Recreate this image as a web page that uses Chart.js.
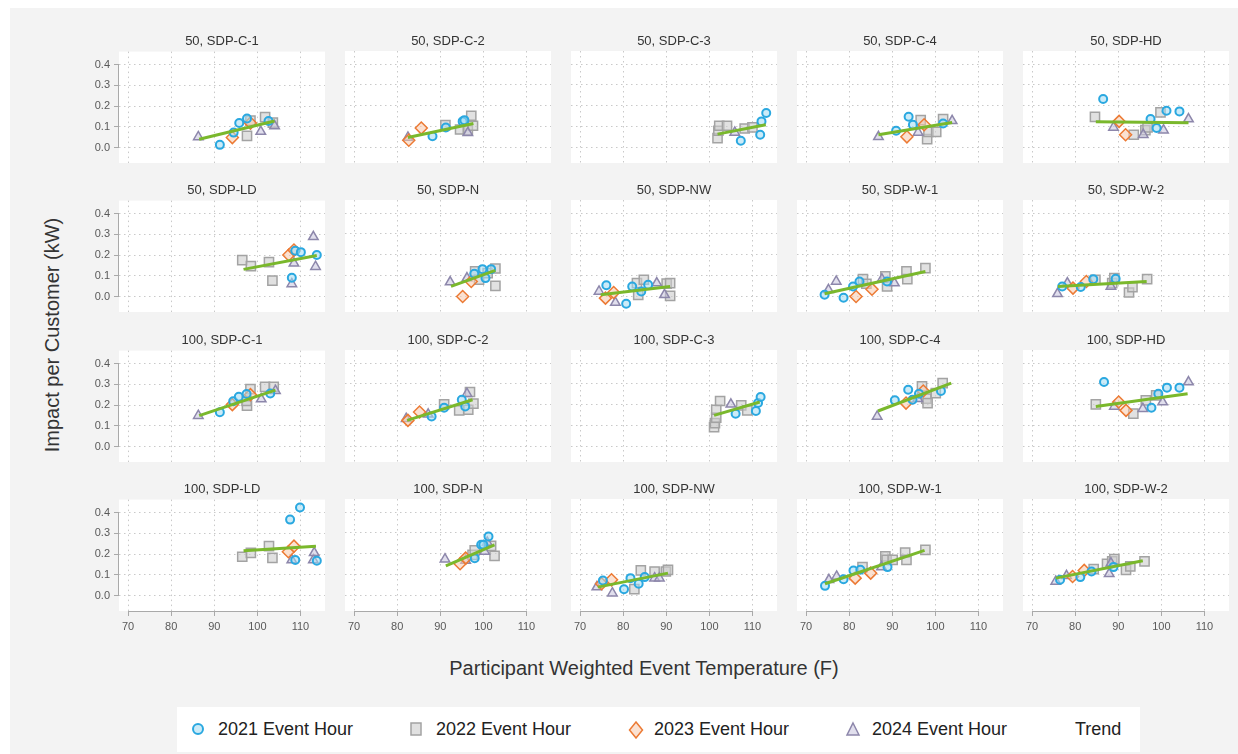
<!DOCTYPE html>
<html><head><meta charset="utf-8">
<script src="https://cdn.jsdelivr.net/npm/chart.js@4.4.0/dist/chart.umd.min.js"></script>
<style>
html,body{margin:0;padding:0;background:#fff;}
body{width:1238px;height:754px;position:relative;overflow:hidden;font-family:"Liberation Sans",Arial,sans-serif;}
#bg{position:absolute;left:10px;top:8px;right:0;bottom:0;background:#f3f3f3;}
canvas{position:absolute;}
.ptitle{position:absolute;font-size:13px;color:#333;text-align:center;white-space:nowrap;z-index:5;width:206px;}
#ytitle{position:absolute;left:52px;top:335px;transform:translate(-50%,-50%) rotate(-90deg);font-size:20px;color:#333;white-space:nowrap;}
#xtitle{position:absolute;left:644px;top:668px;transform:translate(-50%,-50%);font-size:20px;color:#333;white-space:nowrap;}
#legend{position:absolute;left:177px;top:707px;width:963px;height:45px;background:#fff;}
.li{position:absolute;top:0;height:45px;line-height:45px;font-size:18px;color:#222;white-space:nowrap;}
.ic{position:absolute;top:14px;}
</style></head>
<body>
<div id="bg"></div>
<div id="ytitle">Impact per Customer (kW)</div>
<div id="xtitle">Participant Weighted Event Temperature (F)</div>
<div id="legend"></div>
<script>
const panelNames = ['50, SDP-C-1','50, SDP-C-2','50, SDP-C-3','50, SDP-C-4','50, SDP-HD',
  '50, SDP-LD','50, SDP-N','50, SDP-NW','50, SDP-W-1','50, SDP-W-2',
  '100, SDP-C-1','100, SDP-C-2','100, SDP-C-3','100, SDP-C-4','100, SDP-HD',
  '100, SDP-LD','100, SDP-N','100, SDP-NW','100, SDP-W-1','100, SDP-W-2'];
const yTicks = [0,0.1,0.2,0.3,0.4];
const xTicks = [70,80,90,100,110];
const seriesNames = ['2021 Event Hour','2022 Event Hour','2023 Event Hour','2024 Event Hour','Trend'];

const pts2021 = [
 [[91.3,0.013],[94.5,0.072],[95.8,0.118],[97.6,0.14],[102.6,0.128]],
 [[88.2,0.054],[91.3,0.096],[95.2,0.125],[95.6,0.131]],
 [[107.3,0.032],[111.8,0.061],[112.1,0.125],[113.2,0.165]],
 [[90.9,0.08],[93.8,0.147],[94.8,0.109],[101.8,0.115]],
 [[86.5,0.232],[97.5,0.136],[98.9,0.093],[101.2,0.176],[104.2,0.173]],
 [[108,0.091],[108.8,0.221],[110.1,0.214],[113.8,0.2]],
 [[97.9,0.109],[99.8,0.131],[100.5,0.088],[101.8,0.131]],
 [[76.1,0.054],[80.7,-0.035],[82.1,0.048],[84.2,0.024],[85.8,0.056]],
 [[74.3,0.008],[78.7,-0.006],[80.9,0.048],[82.4,0.072],[88.8,0.072]],
 [[77,0.048],[81.3,0.045],[84.2,0.083],[89.4,0.085]],
 [[91.3,0.165],[94.4,0.218],[95.7,0.24],[97.5,0.253],[103,0.256]],
 [[88,0.144],[90.9,0.186],[95,0.224],[95.8,0.192]],
 [[106.1,0.157],[110.8,0.17],[111.3,0.208],[111.9,0.237]],
 [[90.6,0.221],[93.7,0.272],[94.7,0.224],[96.2,0.253],[101.3,0.266]],
 [[86.7,0.309],[97.7,0.186],[99.3,0.253],[101.3,0.282],[104.2,0.282]],
 [[107.6,0.366],[108.8,0.171],[109.9,0.424],[113.8,0.168]],
 [[98,0.179],[99.5,0.243],[100,0.243],[101.2,0.283]],
 [[75.3,0.072],[80.2,0.03],[81.7,0.083],[83.6,0.056],[85,0.088]],
 [[74.4,0.046],[78.7,0.078],[81,0.12],[82.6,0.123],[88.9,0.136]],
 [[76.5,0.075],[81.2,0.088],[83.8,0.115],[88.9,0.136]]
];
const pts2022 = [
 [[97.6,0.056],[98.4,0.13],[101.8,0.147],[103.6,0.12]],
 [[91.2,0.107],[94.6,0.086],[96.4,0.083],[97.2,0.152],[97.6,0.104]],
 [[101.9,0.045],[102.1,0.08],[102.3,0.104],[104.1,0.104],[108.2,0.091],[110,0.096]],
 [[96.6,0.131],[98.1,0.04],[98.4,0.075],[100.2,0.075],[101.8,0.136]],
 [[84.6,0.147],[93.6,0.061],[96.3,0.083],[96.8,0.096],[99.8,0.168]],
 [[96.5,0.176],[98.5,0.147],[102.7,0.166],[103.5,0.077]],
 [[98.1,0.12],[99,0.08],[101,0.112],[102.8,0.134],[102.8,0.051]],
 [[83.2,0.064],[83.5,0.008],[84.8,0.08],[90.1,0.062],[90.9,0.064],[90.9,0.003]],
 [[83.2,0.083],[84,0.061],[88.4,0.096],[88.8,0.048],[93.3,0.12],[93.5,0.083],[97.7,0.136]],
 [[84.7,0.08],[88.6,0.064],[89.1,0.088],[92.5,0.019],[93.3,0.045],[96.7,0.083]],
 [[97.6,0.197],[97.5,0.22],[98.4,0.277],[101.8,0.288],[103.8,0.288]],
 [[90.9,0.202],[94.4,0.173],[96.5,0.176],[96.9,0.261],[97.7,0.205]],
 [[101.1,0.093],[101.3,0.112],[101.6,0.138],[101.6,0.176],[102.5,0.218],[107.4,0.197],[108.8,0.173]],
 [[96.9,0.288],[97.9,0.229],[98.2,0.208],[100.1,0.256],[101.7,0.304]],
 [[84.8,0.202],[93.5,0.157],[96.4,0.221],[98.8,0.245]],
 [[96.5,0.187],[98.5,0.206],[102.7,0.238],[103.5,0.182]],
 [[97.5,0.195],[98,0.216],[101.8,0.238],[102.6,0.19]],
 [[82.6,0.03],[84.1,0.12],[87.3,0.115],[89.9,0.115],[90.4,0.123]],
 [[83.1,0.136],[88.4,0.187],[88.7,0.171],[90.1,0.171],[93,0.206],[93.3,0.171],[97.7,0.219]],
 [[84.3,0.126],[87.4,0.152],[88.6,0.163],[89.1,0.174],[91.8,0.123],[92.8,0.139],[96.1,0.163]]
];
const pts2023 = [
 [[94.2,0.048],[98.4,0.118]],
 [[82.7,0.035],[85.6,0.093]],
 [],
 [[93.4,0.051],[97.4,0.109]],
 [[90.2,0.125],[91.7,0.061]],
 [[107.3,0.2],[108.5,0.224]],
 [[95.2,0.0],[97.2,0.072]],
 [[75.9,-0.008],[77.8,0.019]],
 [[81.6,0.0],[85.3,0.035]],
 [[79.5,0.04],[82.6,0.072]],
 [[94.2,0.202],[98.4,0.25]],
 [[82.5,0.125],[85.2,0.165]],
 [],
 [[93.2,0.208],[97.2,0.266]],
 [[90.1,0.213],[91.8,0.173]],
 [[107.2,0.211],[108.5,0.238]],
 [[94.6,0.152],[95.9,0.179]],
 [[75,0.056],[77.3,0.075]],
 [[81.4,0.083],[85,0.107]],
 [[79.4,0.091],[82.1,0.12]]
];
const pts2024 = [
 [[86.3,0.051],[100.8,0.077],[104,0.104]],
 [[82.5,0.048],[96.4,0.07]],
 [[105.9,0.072]],
 [[86.8,0.051],[96,0.072],[103.9,0.128]],
 [[88.9,0.096],[95.8,0.061],[100.5,0.083],[106.3,0.136]],
 [[108,0.061],[108.5,0.16],[113,0.288],[113.5,0.144]],
 [[92.3,0.069],[96.2,0.088]],
 [[74.4,0.024],[78.2,-0.029],[87.8,0.064],[89.6,0.008]],
 [[75.2,0.032],[77,0.072],[87.6,0.083],[90.5,0.064]],
 [[75.9,0.013],[78.2,0.064],[88.3,0.048]],
 [[86.3,0.149],[100.9,0.229],[104.2,0.269]],
 [[82.1,0.133],[87.2,0.154],[96.2,0.253]],
 [[105,0.202]],
 [[86.5,0.144],[95.9,0.229]],
 [[89.1,0.192],[95.7,0.181],[100.3,0.213],[106.3,0.309]],
 [[108,0.171],[113,0.171],[113.2,0.206]],
 [[91.1,0.174],[95.9,0.168],[100.3,0.211],[100.9,0.254]],
 [[73.9,0.04],[77.5,0.011],[87.3,0.083],[88.4,0.083]],
 [[75.3,0.075],[77.1,0.091],[87.5,0.136]],
 [[75.5,0.067],[78,0.094],[87.9,0.104],[88.3,0.155]]
];
const trendLines = [
 [[86.5,0.04],[104,0.128]],
 [[82.5,0.048],[97.7,0.115]],
 [[101.9,0.064],[113.1,0.109]],
 [[86.8,0.061],[103.9,0.12]],
 [[84.8,0.123],[106.3,0.118]],
 [[96.8,0.131],[113.8,0.198]],
 [[92.5,0.048],[102.8,0.125]],
 [[74.8,0.008],[90.9,0.048]],
 [[74.3,0.013],[97.7,0.12]],
 [[76,0.048],[96.6,0.072]],
 [[86.5,0.149],[104.2,0.272]],
 [[82.3,0.125],[97.5,0.224]],
 [[101.1,0.149],[111.7,0.213]],
 [[86.7,0.17],[103.7,0.304]],
 [[84.8,0.192],[106.1,0.253]],
 [[96.8,0.216],[113.6,0.238]],
 [[91.3,0.142],[102.6,0.243]],
 [[74.1,0.04],[90.4,0.107]],
 [[74.4,0.056],[97.5,0.216]],
 [[75.5,0.083],[95.7,0.166]]
];

// layout
const colLeft = [119,345,571,797,1023];
const rowTop = [51,200,350,499];
const PW = 206, PH = 112, LA = 45, TP = 10, RP = 10, BA = 32;

const C21 = {b:'#2aa8e0', f:'rgba(160,218,243,0.55)'};
const C22 = {b:'#a3a3a3', f:'rgba(205,205,205,0.6)'};
const C23 = {b:'#ec7a34', f:'rgba(248,200,172,0.55)'};
const C24 = {b:'#8d87ab', f:'rgba(200,196,222,0.55)'};
const CTR = '#7ab82c';

const toXY = a => a.map(p => ({x:p[0], y:p[1]}));

const framePlugin = {
  id:'frame',
  beforeDraw(chart){
    const a = chart.chartArea, ctx = chart.ctx;
    ctx.save(); ctx.fillStyle = '#fff';
    ctx.fillRect(a.left, a.top, a.right - a.left, a.bottom - a.top);
    ctx.restore();
  },
  afterDraw(chart, args, opts){
    const a = chart.chartArea, ctx = chart.ctx;
    const xs = chart.scales.x, ys = chart.scales.y;
    ctx.save(); ctx.strokeStyle = '#a9a9a9'; ctx.lineWidth = 1;
    if (opts.showY){
      ctx.beginPath();
      ctx.moveTo(a.left - 0.5, ys.getPixelForValue(yTicks[0]));
      ctx.lineTo(a.left - 0.5, ys.getPixelForValue(yTicks[yTicks.length-1]));
      ctx.stroke();
    }
    if (opts.showX){
      ctx.beginPath();
      ctx.moveTo(xs.getPixelForValue(xTicks[0]), a.bottom + 0.5);
      ctx.lineTo(xs.getPixelForValue(xTicks[xTicks.length-1]), a.bottom + 0.5);
      ctx.stroke();
    }
    ctx.restore();
  }
};

for (let i = 0; i < panelNames.length; i++){
  const r = Math.floor(i/5), c = i % 5;
  const showY = c === 0, showX = r === 3;
  const cv = document.createElement('canvas');
  const W = PW + LA + RP, H = PH + TP + BA;
  cv.width = W; cv.height = H;
  cv.style.left = (colLeft[c] - LA) + 'px';
  cv.style.top = (rowTop[r] - TP) + 'px';
  document.body.appendChild(cv);

  const t = document.createElement('div');
  t.className = 'ptitle';
  t.textContent = panelNames[i];
  t.style.left = colLeft[c] + 'px';
  t.style.top = (rowTop[r] - 18) + 'px';
  document.body.appendChild(t);

  const tickFont = {family:'"Liberation Sans", Arial, sans-serif', size:11};
  new Chart(cv, {
    type:'scatter',
    data:{datasets:[
      {label:seriesNames[4], data:toXY(trendLines[i]), showLine:true, borderColor:CTR, borderWidth:3, pointRadius:0, fill:false, order:0},
      {label:seriesNames[0], data:toXY(pts2021[i]), pointStyle:'circle', pointRadius:4, borderWidth:2, borderColor:C21.b, backgroundColor:C21.f, order:1},
      {label:seriesNames[2], data:toXY(pts2023[i]), pointStyle:'rectRot', pointRadius:6, borderWidth:1.5, borderColor:C23.b, backgroundColor:C23.f, order:2},
      {label:seriesNames[3], data:toXY(pts2024[i]), pointStyle:'triangle', pointRadius:5.5, borderWidth:1.5, borderColor:C24.b, backgroundColor:C24.f, order:3},
      {label:seriesNames[1], data:toXY(pts2022[i]), pointStyle:'rect', pointRadius:6.5, borderWidth:1.5, borderColor:C22.b, backgroundColor:C22.f, order:4}
    ]},
    options:{
      responsive:false, animation:false, devicePixelRatio:1,
      layout:{padding:{left:0, top:TP, right:RP, bottom:0}},
      plugins:{legend:{display:false}, tooltip:{enabled:false}, frame:{showX, showY}},
      scales:{
        x:{type:'linear', min:67.9, max:115.7,
          afterBuildTicks: s => { s.ticks = xTicks.map(v => ({value:v})); },
          afterFit: s => { s.height = BA; },
          ticks:{display:showX, font:tickFont, color:'#595959', padding:4, maxRotation:0, callback:v => String(v)},
          grid:{color:'#c9c9c9', lineWidth:1, drawTicks:showX, tickLength:5, tickColor:'#a9a9a9', tickBorderDash:[]},
          border:{display:false, dash:[1.5,3.5]}
        },
        y:{type:'linear', min:-0.0745, max:0.4625,
          afterBuildTicks: s => { s.ticks = yTicks.map(v => ({value:v})); },
          afterFit: s => { s.width = LA; },
          ticks:{display:showY, font:tickFont, color:'#595959', padding:4, callback:v => Number(v).toFixed(1)},
          grid:{color:'#c9c9c9', lineWidth:1, drawTicks:showY, tickLength:5, tickColor:'#a9a9a9', tickBorderDash:[]},
          border:{display:false, dash:[1.5,3.5]}
        }
      }
    },
    plugins:[framePlugin]
  });
}

// legend (HTML)
const legendIcons = [
 '<svg width="16" height="16"><circle cx="8" cy="8" r="5" fill="'+C21.f+'" stroke="'+C21.b+'" stroke-width="2"/></svg>',
 '<svg width="16" height="16"><rect x="3" y="2" width="10" height="12" fill="'+C22.f+'" stroke="'+C22.b+'" stroke-width="1.5"/></svg>',
 '<svg width="16" height="18"><polygon points="8,1 14.5,9 8,17 1.5,9" fill="'+C23.f+'" stroke="'+C23.b+'" stroke-width="1.5"/></svg>',
 '<svg width="16" height="16"><polygon points="8,2 14,14 2,14" fill="'+C24.f+'" stroke="'+C24.b+'" stroke-width="1.5"/></svg>',
 ''
];
const legendIconX = [13, 231, 451, 668, null];
const legendTextX = [41, 259, 477, 695, 898];
const lg = document.getElementById('legend');
seriesNames.forEach((n, k) => {
  if (legendIconX[k] !== null){
    const ic = document.createElement('div');
    ic.className = 'ic'; ic.style.left = legendIconX[k] + 'px';
    ic.innerHTML = legendIcons[k];
    lg.appendChild(ic);
  }
  const tx = document.createElement('div');
  tx.className = 'li'; tx.style.left = legendTextX[k] + 'px';
  tx.textContent = n;
  lg.appendChild(tx);
});
</script>
</body></html>
